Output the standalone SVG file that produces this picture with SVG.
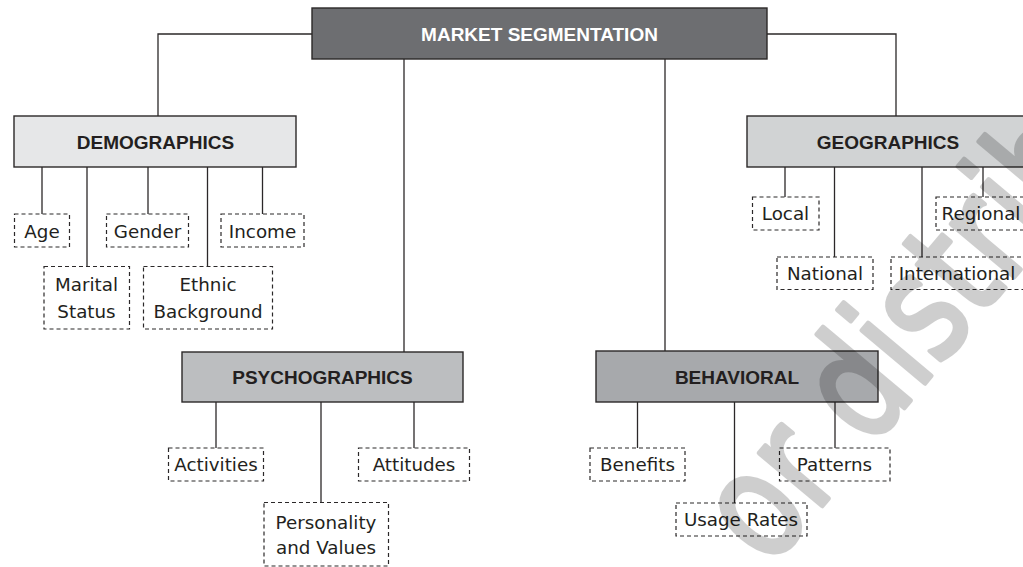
<svg xmlns="http://www.w3.org/2000/svg" width="1023" height="567" viewBox="0 0 1023 567">
<style>
.box{stroke:#2b2829;stroke-width:1.4}
.dash{fill:#fff;stroke:#2b2829;stroke-width:1.2;stroke-dasharray:4 3}
.ln{fill:none;stroke:#2b2829;stroke-width:1.3}
.h{font-family:"Liberation Sans",Arial,sans-serif;font-weight:bold;font-size:19px;fill:#231f20;text-anchor:middle}
.t{font-family:"DejaVu Sans",sans-serif;font-size:18.3px;fill:#231f20;text-anchor:middle}
.wm{font-family:"DejaVu Sans",sans-serif;font-size:150px;fill:#000;stroke:#000;stroke-width:5;stroke-linejoin:round}
</style>
<rect width="1023" height="567" fill="#fff"/>
<g id="connectors">
<polyline class="ln" points="312,34 158,34 158,116"/>
<polyline class="ln" points="767,34 896,34 896,116"/>
<line class="ln" x1="404" y1="59" x2="404" y2="352"/>
<line class="ln" x1="665" y1="59" x2="665" y2="351"/>
<line class="ln" x1="42" y1="167" x2="42" y2="214"/>
<line class="ln" x1="87" y1="167" x2="87" y2="266.5"/>
<line class="ln" x1="148" y1="167" x2="148" y2="214"/>
<line class="ln" x1="207.5" y1="167" x2="207.5" y2="266.5"/>
<line class="ln" x1="262.5" y1="167" x2="262.5" y2="214"/>
<line class="ln" x1="785" y1="167" x2="785" y2="197"/>
<line class="ln" x1="834.5" y1="167" x2="834.5" y2="257"/>
<line class="ln" x1="922" y1="167" x2="922" y2="257"/>
<line class="ln" x1="983" y1="167" x2="983" y2="197"/>
<line class="ln" x1="216" y1="402" x2="216" y2="448"/>
<line class="ln" x1="321" y1="402" x2="321" y2="502.5"/>
<line class="ln" x1="414" y1="402" x2="414" y2="448"/>
<line class="ln" x1="637.5" y1="402" x2="637.5" y2="448"/>
<line class="ln" x1="734.5" y1="402" x2="734.5" y2="503"/>
<line class="ln" x1="835" y1="402" x2="835" y2="448"/>
</g>
<g id="market-segmentation"><rect class="box" x="312" y="8" width="455" height="51" fill="#6d6e71"/><text class="h" x="539.5" y="40.5" style="fill:#fff">MARKET SEGMENTATION</text></g>
<g id="demographics"><rect class="box" x="14" y="116" width="282" height="51" fill="#e6e7e8"/><text class="h" x="155.5" y="149">DEMOGRAPHICS</text></g>
<g id="geographics"><rect class="box" x="747" y="116" width="282" height="51" fill="#d1d3d4"/><text class="h" x="888" y="149">GEOGRAPHICS</text></g>
<g id="psychographics"><rect class="box" x="182" y="352" width="281" height="50" fill="#bcbec0"/><text class="h" x="322.5" y="384">PSYCHOGRAPHICS</text></g>
<g id="behavioral"><rect class="box" x="596" y="351" width="282" height="51" fill="#a7a9ac"/><text class="h" x="737" y="383.5">BEHAVIORAL</text></g>
<g id="age"><rect class="dash" x="14.5" y="214" width="55" height="33"/><text class="t" x="42" y="237.5">Age</text></g>
<g id="gender"><rect class="dash" x="106.5" y="214" width="82" height="33"/><text class="t" x="147.5" y="237.5">Gender</text></g>
<g id="income"><rect class="dash" x="221" y="214" width="83" height="33"/><text class="t" x="262.5" y="237.5">Income</text></g>
<g id="marital-status"><rect class="dash" x="44" y="266.5" width="85.5" height="62.5"/><text class="t" x="86.5" y="291">Marital</text><text class="t" x="86.5" y="317.5">Status</text></g>
<g id="ethnic-background"><rect class="dash" x="143.5" y="266.5" width="129" height="62.5"/><text class="t" x="208" y="291">Ethnic</text><text class="t" x="208" y="317.5">Background</text></g>
<g id="local"><rect class="dash" x="752.5" y="197" width="66.5" height="33"/><text class="t" x="785.5" y="219.5">Local</text></g>
<g id="regional"><rect class="dash" x="936" y="197" width="94" height="33"/><text class="t" x="981" y="219.5">Regional</text></g>
<g id="national"><rect class="dash" x="777" y="257" width="96" height="32.5"/><text class="t" x="825" y="280">National</text></g>
<g id="international"><rect class="dash" x="891" y="257" width="135" height="32.5"/><text class="t" x="957" y="280">International</text></g>
<g id="activities"><rect class="dash" x="168.5" y="448" width="95" height="33"/><text class="t" x="216" y="470.5">Activities</text></g>
<g id="attitudes"><rect class="dash" x="358.5" y="448" width="111" height="33"/><text class="t" x="414" y="470.5">Attitudes</text></g>
<g id="personality-values"><rect class="dash" x="264" y="502.5" width="124.5" height="63.5"/><text class="t" x="326" y="528.5">Personality</text><text class="t" x="326" y="554">and Values</text></g>
<g id="benefits"><rect class="dash" x="590" y="448" width="95" height="33"/><text class="t" x="637.5" y="470.5">Benefits</text></g>
<g id="patterns"><rect class="dash" x="779.5" y="448" width="110.5" height="33"/><text class="t" x="834.5" y="470.5">Patterns</text></g>
<g id="usage-rates"><rect class="dash" x="676" y="503" width="131" height="33"/><text class="t" x="741" y="526">Usage Rates</text></g>
<g opacity="0.19"><text class="wm" transform="translate(769,569) rotate(-50) scale(0.78,1)">or distribute</text></g>
</svg>
